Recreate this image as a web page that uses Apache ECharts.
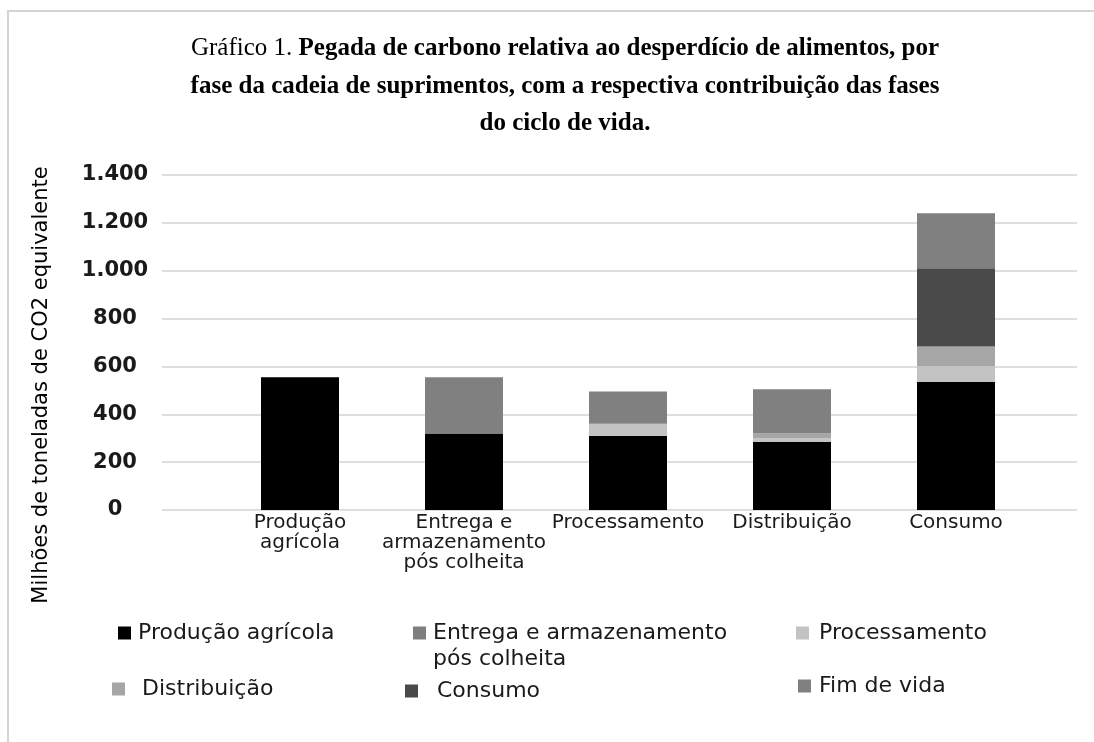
<!DOCTYPE html>
<html>
<head>
<meta charset="utf-8">
<script src="https://cdn.jsdelivr.net/npm/echarts@6/dist/echarts.min.js"></script>
<style>
html,body{margin:0;padding:0;background:#fff;}
#chart{width:1094px;height:742px;}
</style>
</head>
<body>
<div id="chart"></div>
<script>
// ---- data ----
var categories = ['Produção\nagrícola', 'Entrega e\narmazenamento\npós colheita', 'Processamento', 'Distribuição', 'Consumo'];
var seriesNames = ['Produção agrícola', 'Entrega e armazenamento pós colheita', 'Processamento', 'Distribuição', 'Consumo', 'Fim de vida'];
var producaoAgricola = [555, 320, 310, 285, 535];
var entregaArmazenamento = [0, 0, 0, 0, 0];
var processamento = [0, 0, 50, 15, 67];
var distribuicao = [0, 0, 0, 20, 81];
var consumo = [0, 0, 0, 0, 327];
var fimDeVida = [0, 235, 135, 185, 230];
var yMin = 0, yMax = 1400, yStep = 200;

var titleLine1a = 'Gráfico 1. ';
var titleLine1b = 'Pegada de carbono relativa ao desperdício de alimentos, por';
var titleLine2 = 'fase da cadeia de suprimentos, com a respectiva contribuição das fases';
var titleLine3 = 'do ciclo de vida.';
var yAxisName = 'Milhões de toneladas de CO2 equivalente';

var colors = ['#000000', '#7f7f7f', '#c3c3c3', '#a6a6a6', '#4a4a4a', '#808080'];
var values = [producaoAgricola, entregaArmazenamento, processamento, distribuicao, consumo, fimDeVida];

function fmt(v) {
  return String(v).replace(/\B(?=(\d{3})+(?!\d))/g, '.');
}

var chart = echarts.init(document.getElementById('chart'));

var series = seriesNames.map(function (n, i) {
  return {
    name: n,
    type: 'bar',
    stack: 'total',
    xAxisIndex: 1,
    yAxisIndex: 1,
    barWidth: 78,
    itemStyle: { color: colors[i] },
    data: values[i]
  };
});

function legendAt(name, left, centerY, padLeft, extra) {
  var lg = {
    data: [name],
    left: left,
    top: centerY - 12,
    padding: 0,
    icon: 'rect',
    itemWidth: 13,
    itemHeight: 13,
    selectedMode: false,
    textStyle: {
      fontFamily: 'DejaVu Sans',
      fontSize: 22,
      color: '#1a1a1a',
      lineHeight: 24,
      padding: [0, 0, 0, padLeft]
    }
  };
  if (extra) { extra(lg); }
  return lg;
}

var option = {
  animation: false,
  backgroundColor: '#ffffff',
  title: {
    left: 565,
    top: 30,
    textAlign: 'center',
    padding: 0,
    text: '{a|' + titleLine1a + '}{b|' + titleLine1b + '}\n{b|' + titleLine2 + '}\n{b|' + titleLine3 + '}',
    textStyle: {
      rich: {
        a: { fontFamily: 'Liberation Serif', fontSize: 25, fontWeight: 'normal', color: '#000', lineHeight: 37.5 },
        b: { fontFamily: 'Liberation Serif', fontSize: 25, fontWeight: 'bold', color: '#000', lineHeight: 37.5 }
      }
    }
  },
  legend: [
    legendAt(seriesNames[0], 118, 633, 2),
    legendAt(seriesNames[1], 413, 633, 2, function (lg) {
      lg.formatter = function () { return '\nEntrega e armazenamento\npós colheita'; };
      lg.textStyle.lineHeight = 26;
      lg.top = 633 - 39;
    }),
    legendAt(seriesNames[2], 796, 633, 5),
    legendAt(seriesNames[3], 112, 689, 12),
    legendAt(seriesNames[4], 405, 691, 14),
    legendAt(seriesNames[5], 798, 686, 3)
  ],
  grid: [
    { left: 162, right: 17, top: 175, bottom: 232 },
    { left: 218, right: 56, top: 175, bottom: 232 }
  ],
  xAxis: [
    { gridIndex: 0, type: 'value', show: false, min: 0, max: 1 },
    {
      gridIndex: 1,
      type: 'category',
      data: categories,
      axisLine: { show: false },
      axisTick: { show: false },
      axisLabel: {
        margin: 3,
        fontFamily: 'DejaVu Sans',
        fontSize: 20,
        lineHeight: 20,
        color: '#1a1a1a',
        interval: 0
      }
    }
  ],
  yAxis: [
    {
      gridIndex: 0,
      type: 'value',
      min: yMin,
      max: yMax,
      interval: yStep,
      axisLine: { show: false },
      axisTick: { show: false },
      splitLine: { lineStyle: { color: '#dedede', width: 2 } },
      axisLabel: {
        formatter: fmt,
        align: 'center',
        margin: 47,
        fontFamily: 'DejaVu Sans',
        fontWeight: 'bold',
        fontSize: 21,
        color: '#1a1a1a'
      }
    },
    { gridIndex: 1, type: 'value', min: yMin, max: yMax, interval: yStep, show: false }
  ],
  graphic: [
    {
      type: 'text',
      x: 42,
      y: 385,
      rotation: Math.PI / 2,
      style: {
        text: yAxisName,
        fontFamily: 'DejaVu Sans',
        fontSize: 21,
        fill: '#000',
        align: 'center',
        verticalAlign: 'middle'
      }
    },
    {
      type: 'polyline',
      shape: { points: [[8, 742], [8, 11], [1094, 11]] },
      style: { stroke: '#d4d4d4', lineWidth: 2, fill: null }
    }
  ],
  series: series
};

chart.setOption(option);
</script>
</body>
</html>
